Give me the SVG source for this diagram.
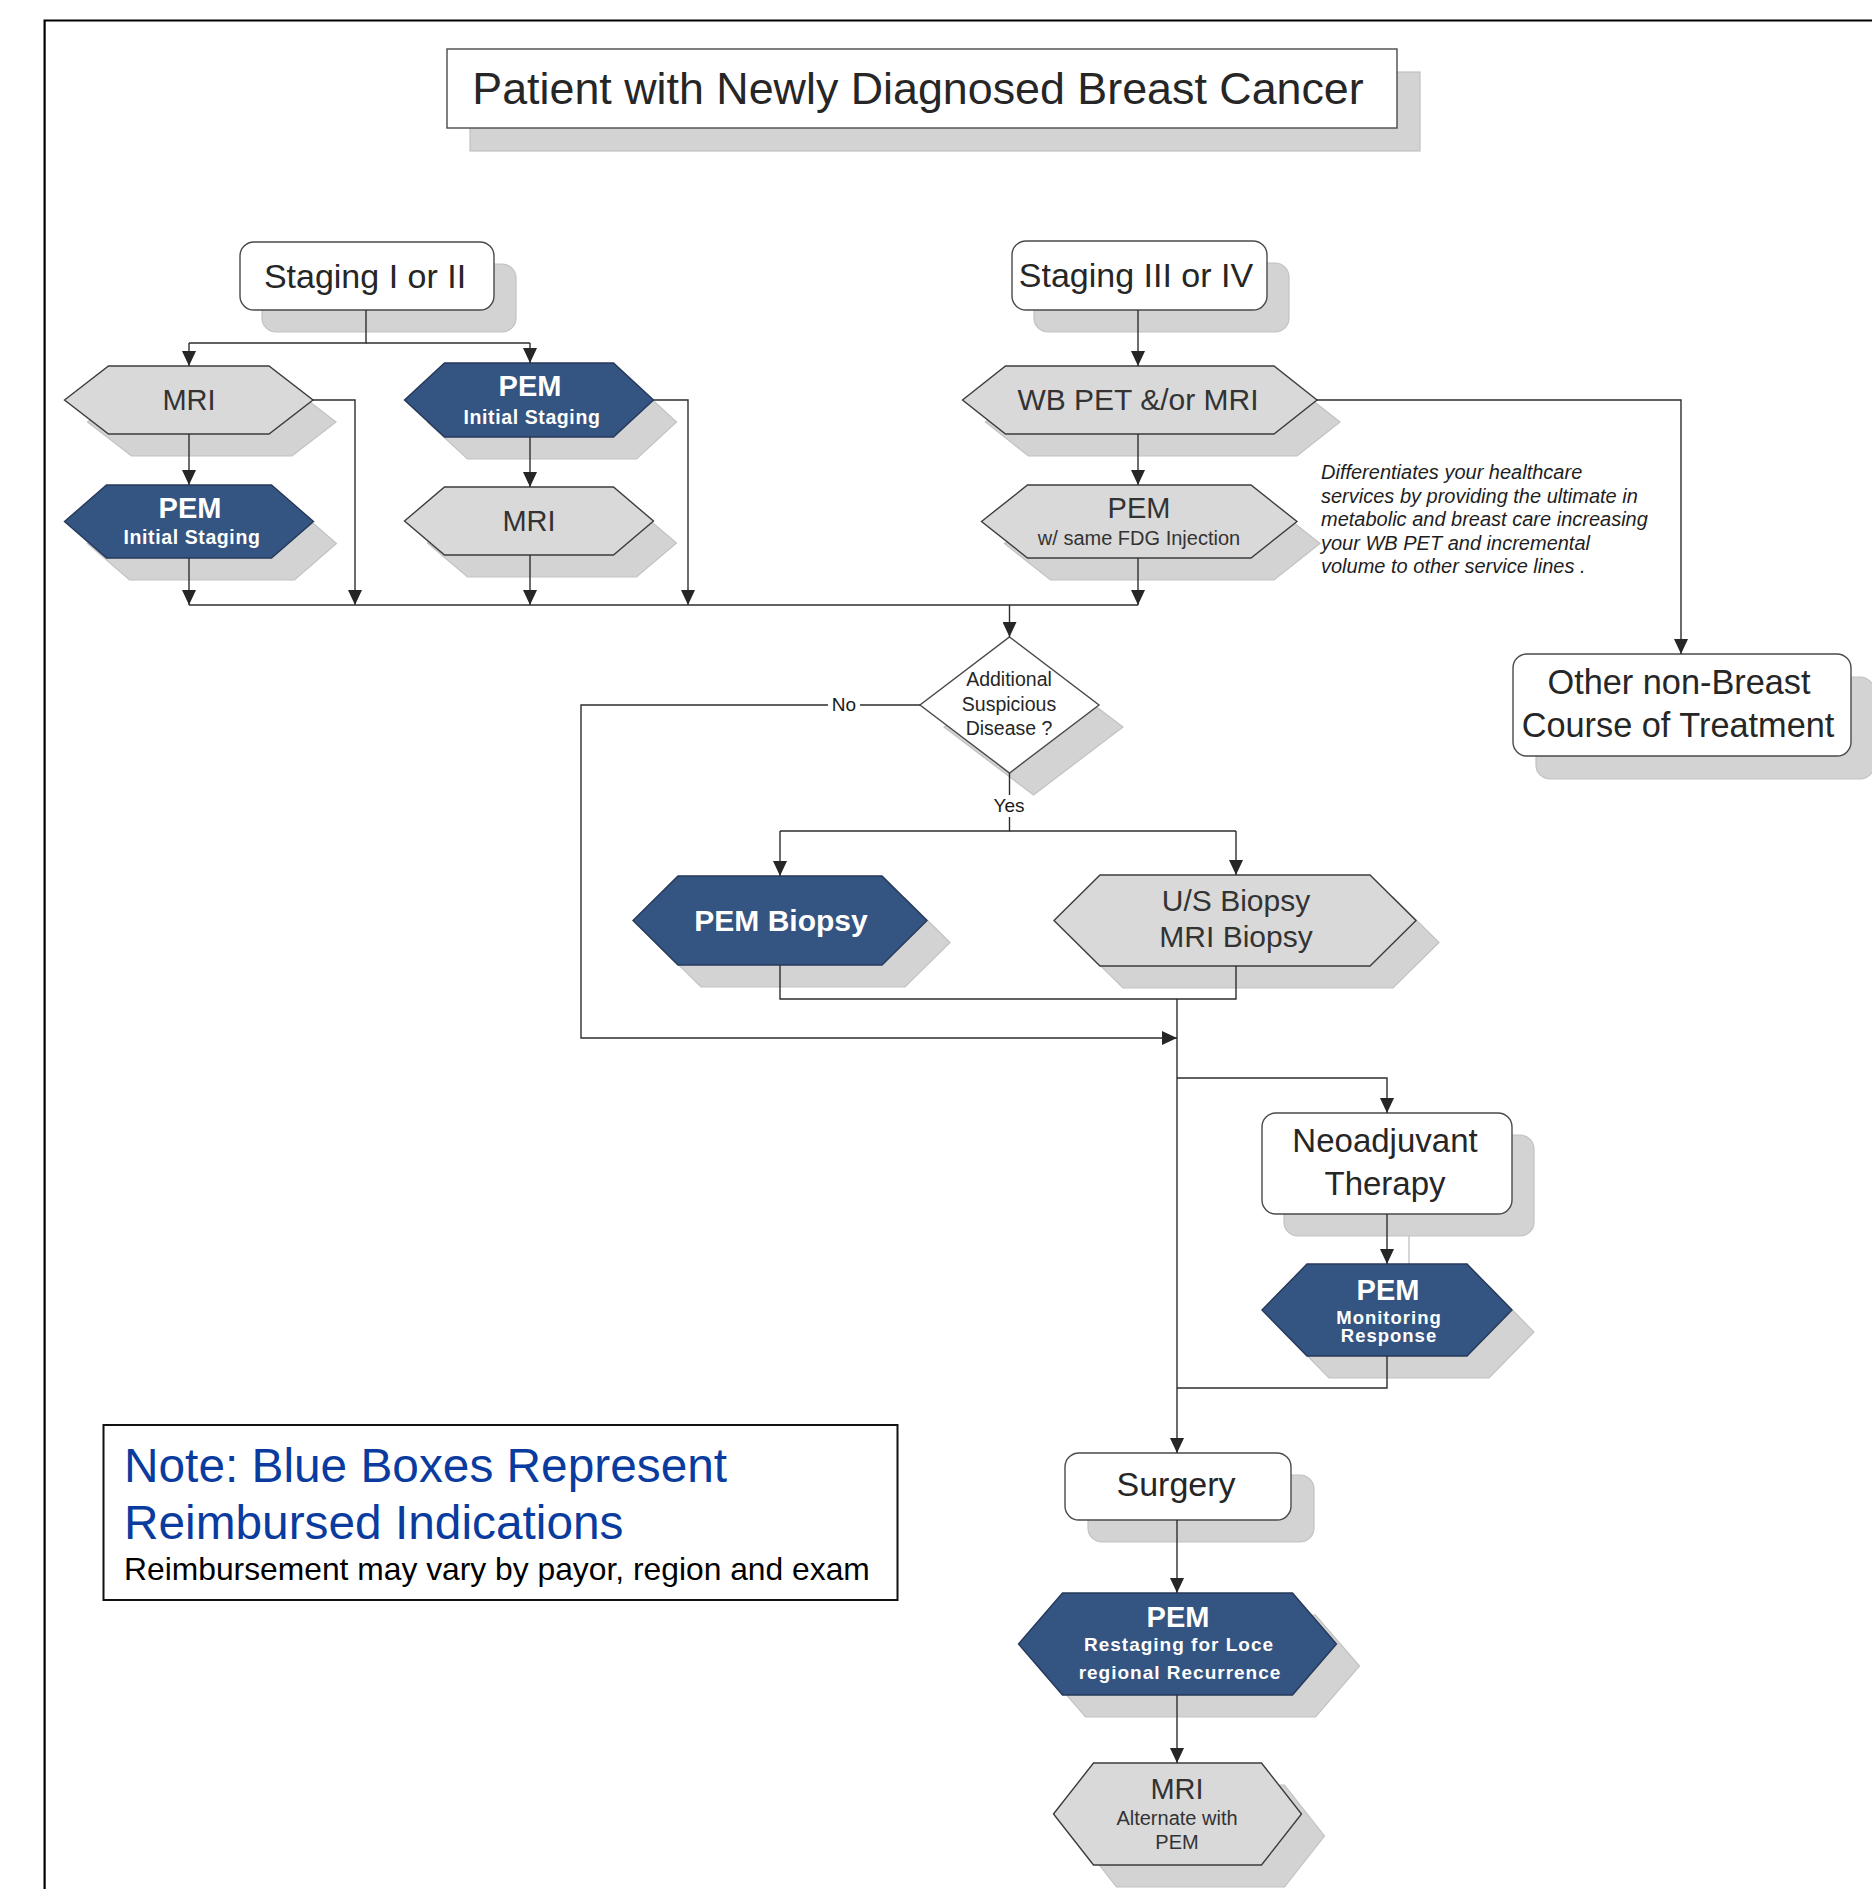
<svg xmlns="http://www.w3.org/2000/svg" width="1872" height="1889" viewBox="0 0 1872 1889">
<style>
text{font-family:"Liberation Sans",Arial,sans-serif;}
.sh{fill:#d3d3d3;stroke:#c2c2c2;stroke-width:1.2;}
.box{fill:#ffffff;stroke:#4a4a4a;stroke-width:1.4;}
.gray{fill:#d9d9d9;stroke:#3c3c3c;stroke-width:1.4;}
.blue{fill:#345481;stroke:#26395a;stroke-width:1.4;}
.t{fill:#262626;text-anchor:middle;}
.tg{fill:#333333;text-anchor:middle;}
.tw{fill:#ffffff;text-anchor:middle;font-weight:bold;}
.c{fill:none;stroke:#2e2e2e;stroke-width:1.4;}
.ca{fill:none;stroke:#2e2e2e;stroke-width:1.4;marker-end:url(#ah);}
.lbl{fill:#1a1a1a;text-anchor:middle;font-size:19px;}
.it{fill:#1e1e1e;font-size:20px;font-style:italic;}
</style>
<defs>
<marker id="ah" markerUnits="userSpaceOnUse" markerWidth="16" markerHeight="14" refX="15" refY="7" orient="auto">
<path d="M0,0 L15,7 L0,14 Z" fill="#262626"/>
</marker>
<marker id="ahs" markerUnits="userSpaceOnUse" markerWidth="16" markerHeight="14" refX="15" refY="7" orient="auto">
<path d="M0,0 L15,7 L0,14 Z" fill="#c4c4c4"/>
</marker>
</defs>
<rect x="0" y="0" width="1872" height="1889" fill="#ffffff"/>
<path d="M44.6 1889 V20.5 H1872" fill="none" stroke="#000" stroke-width="2.2"/>

<g id="title">
<rect class="sh" x="470" y="72" width="950" height="79"/>
<rect class="box" x="447" y="49" width="950" height="79"/>
<text class="t" x="918" y="104" font-size="44.8">Patient with Newly Diagnosed Breast Cancer</text>
</g>

<g id="staging12">
<rect class="sh" x="262" y="264" width="254" height="68" rx="14"/>
<rect class="box" x="240" y="242" width="254" height="68" rx="14"/>
<text class="t" x="365" y="288" font-size="34">Staging I or II</text>
</g>

<g id="staging34">
<rect class="sh" x="1034" y="263" width="255" height="69" rx="14"/>
<rect class="box" x="1012" y="241" width="255" height="69" rx="14"/>
<text class="t" x="1136" y="287" font-size="34">Staging III or IV</text>
</g>

<g id="mri1">
<polygon class="sh" transform="translate(23 22)" points="64.5,400 108.5,366 269,366 313,400 269,434 108.5,434"/>
<polygon class="gray" points="64.5,400 108.5,366 269,366 313,400 269,434 108.5,434"/>
<text class="tg" x="189" y="410" font-size="29">MRI</text>
</g>

<g id="pem1">
<polygon class="sh" transform="translate(23 22)" points="64.5,521.5 106.5,485 271.5,485 313.5,521.5 271.5,558 106.5,558"/>
<polygon class="blue" points="64.5,521.5 106.5,485 271.5,485 313.5,521.5 271.5,558 106.5,558"/>
<text class="tw" x="190" y="518" font-size="29">PEM</text>
<text class="tw" x="192" y="544" font-size="19.5" letter-spacing="0.6">Initial Staging</text>
</g>

<g id="pem2">
<polygon class="sh" transform="translate(23 22)" points="404.5,400 444.5,363 613.5,363 653.5,400 613.5,437 444.5,437"/>
<polygon class="blue" points="404.5,400 444.5,363 613.5,363 653.5,400 613.5,437 444.5,437"/>
<text class="tw" x="530" y="396" font-size="29">PEM</text>
<text class="tw" x="532" y="424" font-size="19.5" letter-spacing="0.6">Initial Staging</text>
</g>

<g id="mri2">
<polygon class="sh" transform="translate(23 22)" points="404.5,521 444.5,487 613.5,487 653.5,521 613.5,555 444.5,555"/>
<polygon class="gray" points="404.5,521 444.5,487 613.5,487 653.5,521 613.5,555 444.5,555"/>
<text class="tg" x="529" y="531" font-size="29">MRI</text>
</g>

<g id="wbpet">
<polygon class="sh" transform="translate(23 22)" points="962.5,400 1005.5,366 1274,366 1317,400 1274,434 1005.5,434"/>
<polygon class="gray" points="962.5,400 1005.5,366 1274,366 1317,400 1274,434 1005.5,434"/>
<text class="tg" x="1138" y="410" font-size="30">WB PET &amp;/or MRI</text>
</g>

<g id="pemfdg">
<polygon class="sh" transform="translate(23 22)" points="981.5,521.5 1027.5,485 1251,485 1297,521.5 1251,558 1027.5,558"/>
<polygon class="gray" points="981.5,521.5 1027.5,485 1251,485 1297,521.5 1251,558 1027.5,558"/>
<text class="tg" x="1139" y="518" font-size="29">PEM</text>
<text class="tg" x="1139" y="545" font-size="20">w/ same FDG Injection</text>
</g>

<g id="note-italic">
<text class="it" x="1321" y="479">Differentiates your healthcare</text>
<text class="it" x="1321" y="502.5">services by providing the ultimate in</text>
<text class="it" x="1321" y="526">metabolic and breast care increasing</text>
<text class="it" x="1321" y="549.5">your WB PET and incremental</text>
<text class="it" x="1321" y="573">volume to other service lines .</text>
</g>

<g id="other">
<rect class="sh" x="1536" y="677" width="338" height="102" rx="14"/>
<rect class="box" x="1513" y="654" width="338" height="102" rx="14"/>
<text class="t" x="1679" y="694" font-size="34.3">Other non-Breast</text>
<text class="t" x="1678" y="737" font-size="34.3">Course of Treatment</text>
</g>

<g id="decision">
<polygon class="sh" transform="translate(24 22)" points="1009.5,637 1099,705 1009.5,773 920,705"/>
<polygon class="box" points="1009.5,637 1099,705 1009.5,773 920,705"/>
<text class="t" x="1009" y="686" font-size="19.5">Additional</text>
<text class="t" x="1009" y="711" font-size="19.5">Suspicious</text>
<text class="t" x="1009" y="735" font-size="19.5">Disease ?</text>
</g>

<g id="pembiopsy">
<polygon class="sh" transform="translate(23 22)" points="633,920.5 678,876 882,876 927,920.5 882,965 678,965"/>
<polygon class="blue" points="633,920.5 678,876 882,876 927,920.5 882,965 678,965"/>
<text class="tw" x="781" y="931" font-size="30">PEM Biopsy</text>
</g>

<g id="usbiopsy">
<polygon class="sh" transform="translate(23 22)" points="1054,920.5 1100,875 1370,875 1416,920.5 1370,966 1100,966"/>
<polygon class="gray" points="1054,920.5 1100,875 1370,875 1416,920.5 1370,966 1100,966"/>
<text class="tg" x="1236" y="911" font-size="30">U/S Biopsy</text>
<text class="tg" x="1236" y="947" font-size="30">MRI Biopsy</text>
</g>

<g id="neoadjuvant">
<rect class="sh" x="1284" y="1135" width="250" height="101" rx="14"/>
<line x1="1409" y1="1236" x2="1409" y2="1280" stroke="#c4c4c4" stroke-width="1.4" marker-end="url(#ahs)"/>
<rect class="box" x="1262" y="1113" width="250" height="101" rx="14"/>
<text class="t" x="1385" y="1152" font-size="33">Neoadjuvant</text>
<text class="t" x="1385" y="1195" font-size="33">Therapy</text>
</g>

<g id="pemmonitoring">
<polygon class="sh" transform="translate(22 22)" points="1262,1310 1307,1264 1467,1264 1512,1310 1467,1356 1307,1356"/>
<polygon class="blue" points="1262,1310 1307,1264 1467,1264 1512,1310 1467,1356 1307,1356"/>
<text class="tw" x="1388" y="1300" font-size="29">PEM</text>
<text class="tw" x="1389" y="1324" font-size="18.5" letter-spacing="1">Monitoring</text>
<text class="tw" x="1389" y="1342" font-size="18.5" letter-spacing="1">Response</text>
</g>

<g id="surgery">
<rect class="sh" x="1088" y="1475" width="226" height="67" rx="14"/>
<rect class="box" x="1065" y="1453" width="226" height="67" rx="14"/>
<text class="t" x="1176" y="1496" font-size="34">Surgery</text>
</g>

<g id="pemrestaging">
<polygon class="sh" transform="translate(23 22)" points="1018.5,1644 1062.5,1593 1292.5,1593 1336.5,1644 1292.5,1695 1062.5,1695"/>
<polygon class="blue" points="1018.5,1644 1062.5,1593 1292.5,1593 1336.5,1644 1292.5,1695 1062.5,1695"/>
<text class="tw" x="1178" y="1627" font-size="29">PEM</text>
<text class="tw" x="1179" y="1651" font-size="19" letter-spacing="1">Restaging for Loce</text>
<text class="tw" x="1180" y="1679" font-size="19" letter-spacing="1">regional Recurrence</text>
</g>

<g id="mri3">
<polygon class="sh" transform="translate(23 22)" points="1053.5,1814 1093.5,1763 1261.5,1763 1301.5,1814 1261.5,1865 1093.5,1865"/>
<polygon class="gray" points="1053.5,1814 1093.5,1763 1261.5,1763 1301.5,1814 1261.5,1865 1093.5,1865"/>
<text class="tg" x="1177" y="1799" font-size="29">MRI</text>
<text class="tg" x="1177" y="1825" font-size="20">Alternate with</text>
<text class="tg" x="1177" y="1849" font-size="20">PEM</text>
</g>

<g id="legend">
<rect x="103.5" y="1425" width="794" height="175" fill="#ffffff" stroke="#111" stroke-width="2"/>
<text x="124" y="1482" font-size="47.8" fill="#0a3b9e">Note: Blue Boxes Represent</text>
<text x="124" y="1539" font-size="47.8" fill="#0a3b9e">Reimbursed Indications</text>
<text x="124" y="1580" font-size="31.8" fill="#000">Reimbursement may vary by payor, region and exam</text>
</g>

<g id="connectors">
<path class="c" d="M366 310 V343 H189"/>
<path class="ca" d="M189 343 V366"/>
<path class="c" d="M366 343 H530"/>
<path class="ca" d="M530 343 V363"/>
<path class="ca" d="M189 434 V485"/>
<path class="ca" d="M313 400 H355 V605"/>
<path class="ca" d="M189 558 V605"/>
<path class="ca" d="M530 437 V487"/>
<path class="ca" d="M653.5 400 H688 V605"/>
<path class="ca" d="M530 555 V605"/>
<path class="c" d="M189 605 H1138"/>
<path class="ca" d="M1138 310 V366"/>
<path class="ca" d="M1138 434 V485"/>
<path class="ca" d="M1138 558 V605"/>
<path class="ca" d="M1317 400 H1681 V654"/>
<path class="ca" d="M1009.5 605 V637"/>
<path class="ca" d="M920 705 H581 V1038 H1177"/>
<rect x="828" y="694" width="32" height="22" fill="#ffffff"/>
<text class="lbl" x="844" y="711">No</text>
<path class="c" d="M1009.5 773 V831 H780"/>
<path class="ca" d="M780 831 V876"/>
<path class="c" d="M1009.5 831 H1236"/>
<path class="ca" d="M1236 831 V875"/>
<rect x="991" y="795" width="37" height="22" fill="#ffffff"/>
<text class="lbl" x="1009" y="812">Yes</text>
<path class="c" d="M780 965 V999 H1236 V966"/>
<path class="ca" d="M1177 999 V1453"/>
<path class="ca" d="M1177 1078 H1387 V1113"/>
<path class="ca" d="M1387 1214 V1264"/>
<path class="c" d="M1387 1356 V1388 H1177"/>
<path class="ca" d="M1177 1520 V1593"/>
<path class="ca" d="M1177 1695 V1763"/>
</g>
</svg>
